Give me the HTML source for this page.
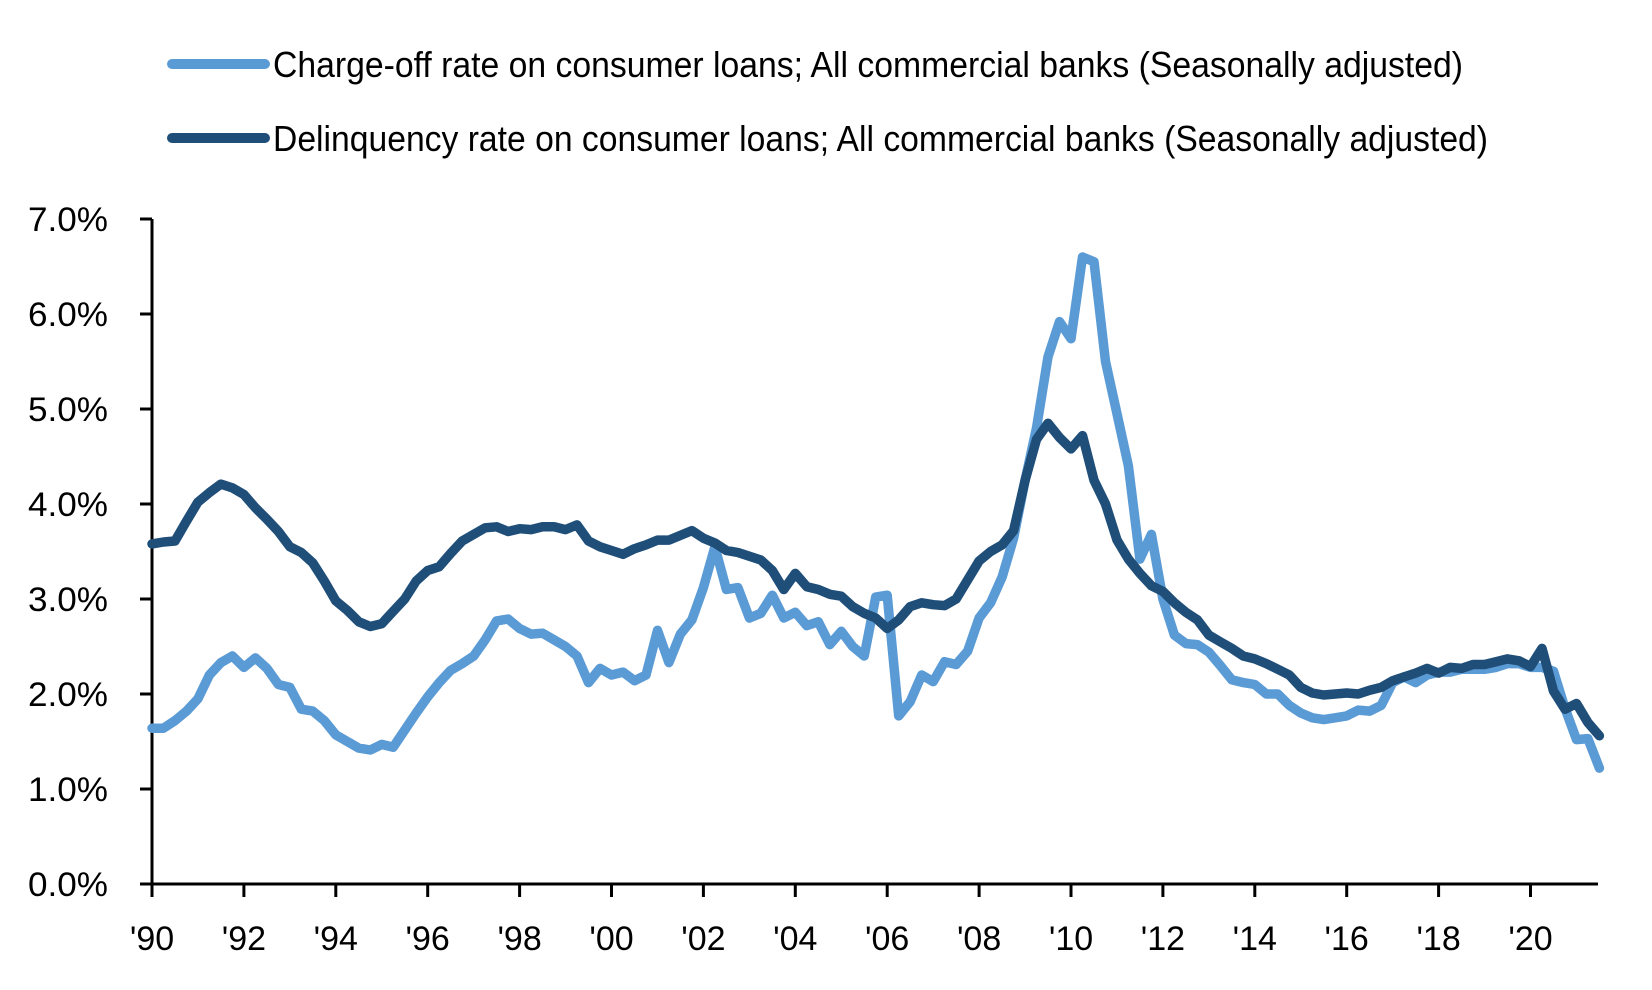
<!DOCTYPE html>
<html><head><meta charset="utf-8"><style>
html,body{margin:0;padding:0;background:#fff;}
svg{display:block;font-family:"Liberation Sans",Arial,sans-serif;}
</style></head><body>
<svg id="c" width="1652" height="990" viewBox="0 0 1652 990" xmlns="http://www.w3.org/2000/svg">
<line x1="172" y1="64" x2="265" y2="64" stroke="#5B9BD5" stroke-width="10" stroke-linecap="round"/>
<line x1="172" y1="138" x2="265" y2="138" stroke="#1F4E79" stroke-width="10" stroke-linecap="round"/>
<text x="273" y="77" font-size="36" textLength="1190" lengthAdjust="spacingAndGlyphs">Charge-off rate on consumer loans; All commercial banks (Seasonally adjusted)</text>
<text x="273" y="151" font-size="36" textLength="1215" lengthAdjust="spacingAndGlyphs">Delinquency rate on consumer loans; All commercial banks (Seasonally adjusted)</text>
<g id="axes" stroke="#000" stroke-width="3"></g>
<g id="labels" font-size="34" fill="#000"></g>
<g id="series"></g>
</svg>
<script>
var ns="http://www.w3.org/2000/svg";
function X(t){return 152+45.95*(t-1990);}
function Y(v){return 884-95*v;}
var ax=document.getElementById('axes'),lb=document.getElementById('labels'),se=document.getElementById('series');
function el(p,tag,a,txt){var e=document.createElementNS(ns,tag);for(var k in a)e.setAttribute(k,a[k]);if(txt)e.textContent=txt;p.appendChild(e);return e;}
el(ax,'line',{x1:152,y1:Y(7),x2:152,y2:884});
el(ax,'line',{x1:140,y1:884,x2:1598,y2:884});
for(var i=0;i<=7;i++){el(ax,'line',{x1:140,y1:Y(i),x2:152,y2:Y(i)});
 el(lb,'text',{x:108,y:Y(i)+12,'text-anchor':'end',textLength:80,lengthAdjust:'spacingAndGlyphs'},i+'.0%');}
var yl=["'90","'92","'94","'96","'98","'00","'02","'04","'06","'08","'10","'12","'14","'16","'18","'20"];
for(var j=0;j<16;j++){var x=X(1990+2*j);el(ax,'line',{x1:x,y1:884,x2:x,y2:897});
 el(lb,'text',{x:x,y:950,'text-anchor':'middle'},yl[j]);}
var co=[1.64,1.64,1.72,1.82,1.95,2.2,2.33,2.40,2.28,2.38,2.27,2.10,2.07,1.84,1.82,1.72,1.57,1.50,1.43,1.41,1.47,1.44,1.62,1.80,1.97,2.12,2.25,2.32,2.40,2.57,2.77,2.79,2.69,2.63,2.64,2.57,2.50,2.40,2.12,2.27,2.20,2.23,2.14,2.20,2.67,2.33,2.63,2.78,3.12,3.55,3.10,3.12,2.80,2.85,3.04,2.80,2.86,2.72,2.76,2.52,2.66,2.50,2.40,3.02,3.04,1.77,1.92,2.20,2.13,2.34,2.31,2.45,2.80,2.96,3.23,3.64,4.25,4.80,5.55,5.92,5.74,6.60,6.55,5.50,4.95,4.40,3.42,3.68,3.00,2.62,2.53,2.52,2.44,2.30,2.15,2.12,2.10,2.00,2.00,1.88,1.80,1.75,1.73,1.75,1.77,1.83,1.82,1.88,2.12,2.18,2.12,2.20,2.23,2.23,2.26,2.26,2.26,2.28,2.32,2.32,2.28,2.28,2.24,1.85,1.52,1.53,1.22];
var dq=[3.58,3.60,3.61,3.82,4.02,4.12,4.21,4.17,4.10,3.96,3.84,3.71,3.55,3.49,3.38,3.19,2.98,2.88,2.76,2.71,2.74,2.87,3.00,3.19,3.30,3.34,3.48,3.61,3.68,3.75,3.76,3.71,3.74,3.73,3.76,3.76,3.73,3.78,3.61,3.55,3.51,3.47,3.53,3.57,3.62,3.62,3.67,3.72,3.64,3.59,3.51,3.49,3.45,3.41,3.30,3.10,3.27,3.13,3.10,3.05,3.03,2.92,2.85,2.80,2.69,2.78,2.92,2.96,2.94,2.93,3.00,3.20,3.40,3.50,3.57,3.72,4.25,4.68,4.85,4.70,4.58,4.72,4.25,4.00,3.62,3.42,3.27,3.14,3.08,2.96,2.86,2.78,2.62,2.55,2.48,2.40,2.37,2.32,2.26,2.20,2.07,2.01,1.99,2.00,2.01,2.00,2.04,2.07,2.14,2.18,2.22,2.27,2.22,2.28,2.27,2.31,2.31,2.34,2.37,2.35,2.29,2.48,2.03,1.84,1.90,1.70,1.56];
function pl(d,c){var p=d.map(function(v,i){return X(1990+i*0.25).toFixed(1)+','+Y(v).toFixed(1);}).join(' ');
 el(se,'polyline',{points:p,fill:'none',stroke:c,'stroke-width':9.5,'stroke-linejoin':'round','stroke-linecap':'round'});}
pl(co,'#5B9BD5');pl(dq,'#1F4E79');
</script>
</body></html>
